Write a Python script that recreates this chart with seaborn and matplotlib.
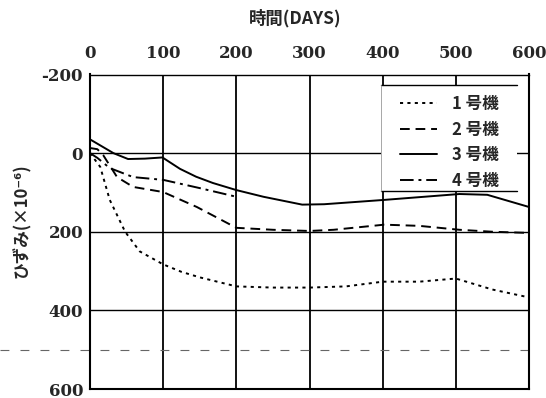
import numpy as np
import pandas as pd
import matplotlib
matplotlib.use("Agg")
import matplotlib.pyplot as plt
from matplotlib.patches import Rectangle
import seaborn as sns

# ---- data ----
units = ["1 号機", "2 号機", "3 号機", "4 号機"]
days_1 = [0, 14, 27, 48, 68, 100, 125, 150, 200, 250, 300, 350, 400, 450, 500, 550, 600]
strain_1 = [0, 35, 119, 200, 250, 283, 302, 316, 339, 342, 342, 339, 327, 327, 319, 347, 367]
days_2 = [0, 10, 18, 37, 59, 100, 146, 200, 250, 300, 333, 402, 450, 505, 550, 600]
strain_2 = [-13, -10, 5, 61, 86, 99, 137, 190, 195, 198, 195, 182, 185, 195, 200, 203]
days_3 = [0, 32, 52, 75, 99, 123, 145, 168, 200, 237, 290, 320, 402, 450, 505, 543, 600]
strain_3 = [-35, 0, 15, 14, 11, 40, 60, 76, 94, 111, 131, 130, 119, 112, 104, 106, 137]
days_4 = [0, 10, 27, 59, 100, 150, 200]
strain_4 = [0, 12, 38, 61, 68, 89, 111]
x_ticks = [0, 100, 200, 300, 400, 500, 600]
y_ticks = [-200, 0, 200, 400, 600]
y_tick_labels = ["-200", "0", "200", "400", "600"]

frames = []
for u, d, s in zip(units, [days_1, days_2, days_3, days_4],
                   [strain_1, strain_2, strain_3, strain_4]):
    frames.append(pd.DataFrame({"day": d, "strain": s, "unit": u}))
df = pd.concat(frames, ignore_index=True)

sns.set_theme(style="white")
cjk = ["Noto Sans CJK JP", "DejaVu Sans"]
plt.rcParams["font.family"] = cjk

fig = plt.figure(figsize=(5.46, 3.98), dpi=100)
ax = fig.add_axes([90 / 546, 1 - 389 / 398, 439 / 546, (389 - 74.5) / 398])

# grid lines
for xv in [100, 200, 300, 400, 500]:
    ax.axvline(xv, color="black", lw=1.3, zorder=1)
for yv in [0, 200, 400]:
    ax.axhline(yv, color="black", lw=1.0, zorder=1)
ax.axhline(500, xmin=-90 / 439, xmax=1, clip_on=False, color="0.4",
           lw=0.8, ls=(0, (8, 10)), zorder=1)

dashes = {
    "1 号機": (1.6, 2.2),
    "2 号機": (5, 3),
    "3 号機": "",
    "4 号機": (7, 2.5, 1.5, 2.5),
}
sns.lineplot(data=df, x="day", y="strain", style="unit", dashes=dashes,
             color="black", lw=1.4, ax=ax, sort=False, legend=True, zorder=3)

ax.set_xlim(0, 600)
ax.set_ylim(600, -200)
ax.xaxis.tick_top()
ax.set_xticks(x_ticks)
ax.set_yticks(y_ticks)
ax.set_yticklabels(y_tick_labels)
ax.tick_params(axis="x", length=0, pad=9)
ax.tick_params(axis="y", length=0, pad=5)
for lab in ax.get_xticklabels() + ax.get_yticklabels():
    lab.set_fontfamily("DejaVu Serif")
    lab.set_fontweight("bold")
    lab.set_fontsize(12)
ax.set_xlabel("")
ax.set_ylabel("")

for side, sp in ax.spines.items():
    sp.set_color("black")
    sp.set_linewidth(1.5 if side in ("left", "bottom", "right") else 1.0)

# legend panel: white box with top and bottom rules
lx0, lx1 = (381 - 90) / 439, (517 - 90) / 439
ly_top, ly_bot = 1 - (85 - 74.5) / 314.5, 1 - (191 - 74.5) / 314.5
ax.add_patch(Rectangle((lx0, ly_bot), lx1 - lx0, ly_top - ly_bot,
                       transform=ax.transAxes, facecolor="white",
                       edgecolor="none", zorder=4))
ax.plot([lx0, lx1], [ly_top, ly_top], transform=ax.transAxes,
        color="black", lw=1.0, zorder=5)
ax.plot([lx0, lx1], [ly_bot, ly_bot], transform=ax.transAxes,
        color="black", lw=1.0, zorder=5)
ax.plot([lx0, lx0], [ly_bot, ly_top], transform=ax.transAxes,
        color="0.6", lw=0.6, zorder=5)

handles, labels = ax.get_legend_handles_labels()
leg = ax.legend(handles, labels, loc="upper left",
                bbox_to_anchor=((400 - 90) / 439, 1 - (95 - 74.5) / 314.5),
                frameon=False,
                prop={"family": cjk, "weight": "bold", "size": 12},
                handlelength=2.2, handletextpad=0.9, labelspacing=0.45,
                borderpad=0.0, borderaxespad=0.0)
leg.set_zorder(6)

fig.text(295 / 546, 1 - 18 / 398, "時間(DAYS)", ha="center", va="center",
         fontsize=12.5, fontweight="bold", family=["Noto Sans CJK JP", "DejaVu Serif"])
fig.text(22 / 546, 1 - 221 / 398, "ひずみ(×10⁻⁶)", ha="center", va="center",
         rotation=90, fontsize=12, fontweight="bold", family=cjk)

fig.savefig("out.png", dpi=100, facecolor="white")
